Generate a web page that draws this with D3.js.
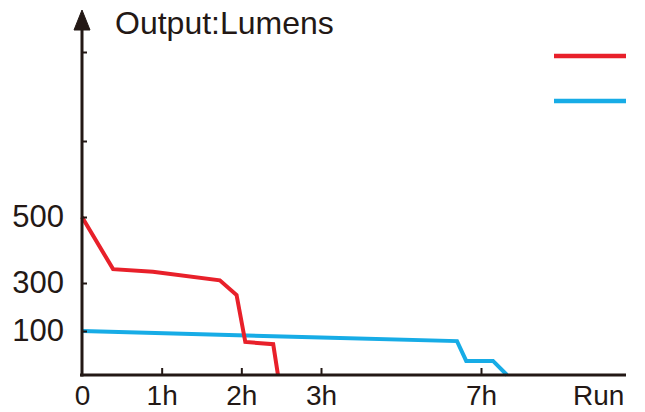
<!DOCTYPE html>
<html>
<head>
    <title>Output: Lumens</title>
    <meta charset="utf-8">
    <script src="https://cdn.jsdelivr.net/npm/d3@7"></script>
    <style>
        body {
            margin: 0;
            background: #fff;
        }
        svg text {
            font-family: "Liberation Sans", Arial, sans-serif;
            fill: #231815;
        }
        .line {
            fill: none;
            stroke-width: 4px;
            stroke-linejoin: miter;
        }
        .axis path, .axis line {
            stroke: #231815;
        }
    </style>
</head>
<body>
    <div id="chart"></div>

    <script>
        // hours, lumens
        const redHours = [0, 0.39, 0.89, 1.73, 1.94, 2.05, 2.40, 2.46];
        const redLumens = [500, 342, 334, 308, 250, 75, 70, 0];
        const blueHours = [0, 3, 6.4, 6.63, 7.3, 7.65];
        const blueLumens = [100, 85, 77, 32, 32, 0];

        const seriesColors = ["#e8202a", "#17ace6"];

        const xTicks = [0, 1, 2, 3, 7];
        const xTickLabels = ["0", "1h", "2h", "3h", "7h"];
        const yTicks = [100, 300, 500, 1000, 1500];
        const yTickLabels = ["100", "300", "500", "", ""];

        const width = 645, height = 412;

        const svg = d3.select("#chart")
            .append("svg")
            .attr("width", width)
            .attr("height", height);

        svg.append("defs").append("clipPath")
            .attr("id", "clip")
            .append("rect")
            .attr("x", 0).attr("y", 0)
            .attr("width", 626).attr("height", height);

        const g = svg.append("g").attr("clip-path", "url(#clip)");

        // axis is broken between 3h and 7h
        const x = d3.scaleLinear()
            .domain([0, 3, 7])
            .range([82, 321, 481]);

        // uneven lumen axis as printed
        const y = d3.scaleLinear()
            .domain([0, 100, 300, 500, 1000, 1500])
            .range([375, 331, 283, 217, 141, 52]);

        const line = d3.line()
            .x(d => x(d[0]))
            .y(d => y(d[1]));

        const red = redHours.map((h, i) => [h, redLumens[i]]);
        const blue = blueHours.map((h, i) => [h, blueLumens[i]]);

        g.append("path")
            .attr("class", "line")
            .attr("stroke", seriesColors[1])
            .attr("d", line(blue));

        g.append("path")
            .attr("class", "line")
            .attr("stroke", seriesColors[0])
            .attr("d", line(red));

        // x axis
        const xAxis = g.append("g")
            .attr("class", "axis")
            .attr("transform", `translate(0,${y(0)})`)
            .call(d3.axisBottom(x)
                .tickValues(xTicks)
                .tickSize(-7)
                .tickSizeOuter(0)
                .tickFormat((d, i) => xTickLabels[i]));
        xAxis.select(".domain")
            .attr("d", `M${x(0) - 2},0H626`)
            .attr("stroke-width", 3);
        xAxis.selectAll(".tick line").attr("stroke-width", 2);
        xAxis.selectAll(".tick").filter(d => d === 0).select("line").remove();
        xAxis.selectAll(".tick text")
            .attr("y", 30)
            .attr("dy", null)
            .style("font-size", "28px");

        xAxis.append("text")
            .attr("x", 573)
            .attr("y", 30)
            .attr("text-anchor", "start")
            .style("font-size", "28px")
            .text("Run");

        // y axis
        const yAxis = g.append("g")
            .attr("class", "axis")
            .attr("transform", `translate(${x(0)},0)`)
            .call(d3.axisLeft(y)
                .tickValues(yTicks)
                .tickSize(-5)
                .tickSizeOuter(0)
                .tickFormat((d, i) => yTickLabels[i]));
        yAxis.select(".domain")
            .attr("d", `M0,${y(0) + 1.5}V22`)
            .attr("stroke-width", 3);
        yAxis.selectAll(".tick line").attr("stroke-width", 2);
        yAxis.selectAll(".tick text")
            .attr("x", -18)
            .style("font-size", "31px");

        yAxis.append("path")
            .attr("d", "M0,10L-8,30L8,30Z")
            .attr("fill", "#231815");

        g.append("text")
            .attr("x", 115)
            .attr("y", 34)
            .style("font-size", "32px")
            .text("Output:Lumens");

        // legend swatches
        g.selectAll(".legend")
            .data(seriesColors)
            .join("line")
            .attr("class", "legend")
            .attr("x1", 554)
            .attr("x2", 630)
            .attr("y1", (d, i) => 56 + i * 45)
            .attr("y2", (d, i) => 56 + i * 45)
            .attr("stroke", d => d)
            .attr("stroke-width", 4.5);
    </script>
</body>
</html>
